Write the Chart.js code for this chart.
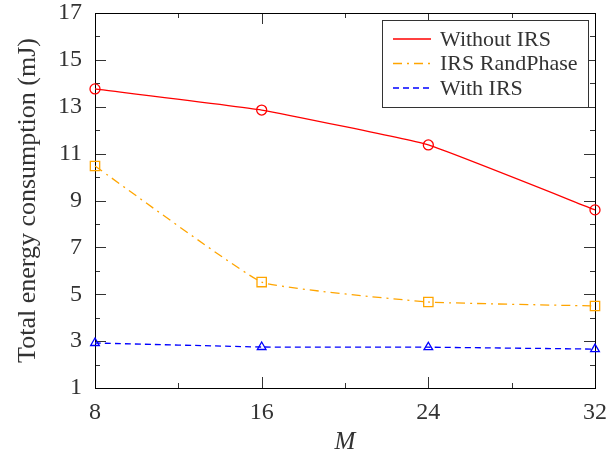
<!DOCTYPE html>
<html>
<head>
<meta charset="utf-8">
<script src="https://cdn.jsdelivr.net/npm/chart.js@4.4.0/dist/chart.umd.min.js"></script>
<style>
  html, body { margin: 0; padding: 0; background: #fff; }
  #wrap { width: 616px; height: 457px; }
</style>
</head>
<body>
<div id="wrap"><canvas id="energyChart"></canvas></div>
<script>
var antennas = [8, 16, 24, 32];
var withoutIRS = [13.76, 12.86, 11.37, 8.6];
var irsRandPhase = [10.47, 5.52, 4.67, 4.5];
var withIRS = [2.92, 2.75, 2.74, 2.66];
var yTicks = [1, 3, 5, 7, 9, 11, 13, 15, 17];
var xTicks = [8, 16, 24, 32];

var serif = "'Liberation Serif', 'Times New Roman', serif";

function toPoints(vals) {
  return antennas.map(function (m, i) { return { x: m, y: vals[i] }; });
}

// frame + inward tick marks, like the matlab look
var framePlugin = {
  id: 'frame',
  beforeDatasetsDraw: function (chart) {
    var ctx = chart.ctx, a = chart.chartArea;
    var xs = chart.scales.x, ys = chart.scales.y;
    ctx.save();
    ctx.strokeStyle = '#333';
    ctx.lineWidth = 1;
    ctx.beginPath();
    // y ticks, major at odd values, minor in between
    for (var v = 1; v <= 17; v++) {
      var py = Math.round(ys.getPixelForValue(v)) + 0.5;
      var len = (v % 2 === 1) ? 11 : 5;
      ctx.moveTo(a.left, py); ctx.lineTo(a.left + len, py);
      ctx.moveTo(a.right, py); ctx.lineTo(a.right - len, py);
    }
    for (var m = 8; m <= 32; m += 4) {
      var px = Math.round(xs.getPixelForValue(m)) + 0.5;
      var l2 = (m % 8 === 0) ? 11 : 5;
      ctx.moveTo(px, a.bottom); ctx.lineTo(px, a.bottom - l2);
      ctx.moveTo(px, a.top); ctx.lineTo(px, a.top + l2);
    }
    ctx.stroke();
    ctx.strokeStyle = '#000';
    ctx.strokeRect(Math.round(a.left) + 0.5, Math.round(a.top) + 0.5,
      Math.round(a.right - a.left), Math.round(a.bottom - a.top));
    ctx.restore();
  },
  afterDraw: function (chart) {
    var ctx = chart.ctx;
    var bx = 382, by = 20, bw = 206, bh = 87;
    ctx.save();
    ctx.fillStyle = '#fff';
    ctx.fillRect(bx, by, bw, bh);
    ctx.strokeStyle = '#333';
    ctx.lineWidth = 1;
    ctx.strokeRect(bx + 0.5, by + 0.5, bw, bh);
    ctx.font = '22px ' + serif;
    ctx.textBaseline = 'middle';
    chart.data.datasets.forEach(function (ds, i) {
      var y = by + 19 + i * 24.5;
      ctx.strokeStyle = ds.borderColor;
      ctx.lineWidth = ds.borderWidth;
      ctx.setLineDash(ds.borderDash || []);
      ctx.beginPath();
      ctx.moveTo(bx + 11, y); ctx.lineTo(bx + 49, y);
      ctx.stroke();
      ctx.setLineDash([]);
      ctx.fillStyle = '#333';
      ctx.fillText(ds.label, bx + 58, y + 1);
    });
    ctx.restore();
  }
};

var ctx = document.getElementById('energyChart').getContext('2d');
var energyChart = new Chart(ctx, {
  type: 'line',
  data: {
    datasets: [{
      label: 'Without IRS',
      data: toPoints(withoutIRS),
      borderColor: '#ff0000',
      borderWidth: 1.3,
      pointStyle: 'circle',
      pointRadius: 5,
      pointBorderWidth: 1.3,
      pointBackgroundColor: 'rgba(0,0,0,0)',
      pointBorderColor: '#ff0000',
      tension: 0.1,
      clip: false
    }, {
      label: 'IRS RandPhase',
      data: toPoints(irsRandPhase),
      borderColor: '#ffa500',
      borderWidth: 1.3,
      borderDash: [9, 5, 2, 5],
      pointStyle: 'rect',
      pointRadius: 6.6,
      pointBorderWidth: 1.3,
      pointBackgroundColor: 'rgba(0,0,0,0)',
      pointBorderColor: '#ffa500',
      tension: 0.1,
      clip: false
    }, {
      label: 'With IRS',
      data: toPoints(withIRS),
      borderColor: '#0000ff',
      borderWidth: 1.3,
      borderDash: [6, 4],
      pointStyle: 'triangle',
      pointRadius: 5,
      pointBorderWidth: 1.3,
      pointBackgroundColor: 'rgba(0,0,0,0)',
      pointBorderColor: '#0000ff',
      tension: 0.1,
      clip: false
    }]
  },
  options: {
    responsive: true,
    maintainAspectRatio: false,
    animation: false,
    layout: { padding: { left: 0, right: 21, top: 0, bottom: 0 } },
    scales: {
      x: {
        type: 'linear',
        min: 8,
        max: 32,
        grid: { display: false, drawTicks: false },
        border: { display: false },
        afterBuildTicks: function (s) { s.ticks = xTicks.map(function (v) { return { value: v }; }); },
        afterFit: function (s) { s.height = 69; s.paddingLeft = 0; s.paddingRight = 0; },
        ticks: { color: '#333', padding: 10, font: { family: serif, size: 24 } },
        title: { display: true, text: 'M', color: '#333', padding: 0,
          font: { family: serif, size: 25, style: 'italic' } }
      },
      y: {
        min: 1,
        max: 17,
        grid: { display: false, drawTicks: false },
        border: { display: false },
        afterBuildTicks: function (s) { s.ticks = yTicks.map(function (v) { return { value: v }; }); },
        afterFit: function (s) { s.width = 95; s.paddingTop = 13; s.paddingBottom = 0; },
        ticks: { color: '#333', padding: 13, font: { family: serif, size: 24 } },
        title: { display: true, text: 'Total energy consumption (mJ)', color: '#333',
          padding: { top: 13, bottom: 0 }, font: { family: serif, size: 26 } }
      }
    },
    plugins: {
      legend: { display: false },
      tooltip: { enabled: false }
    }
  },
  plugins: [framePlugin]
});
</script>
</body>
</html>
